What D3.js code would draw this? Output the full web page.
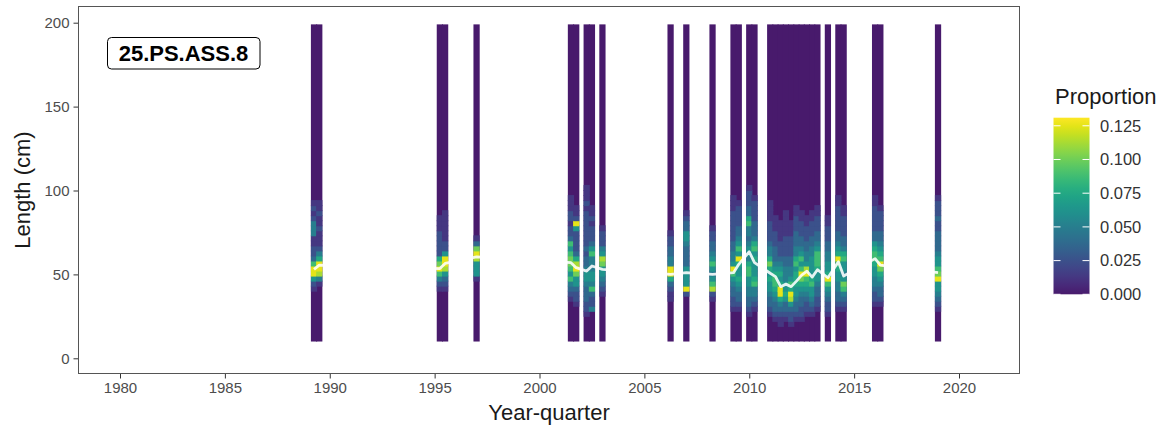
<!DOCTYPE html>
<html>
<head>
<meta charset="utf-8">
<script src="https://cdn.jsdelivr.net/npm/d3@7"></script>
<style>
  html, body { margin: 0; padding: 0; background: #fff; }
  svg { display: block; font-family: "Liberation Sans", Arial, sans-serif; }
</style>
</head>
<body>
<svg id="chart" width="1166" height="431"></svg>
<script>
// ---- data -------------------------------------------------------------
// year-quarter sampled
const quarterLabels = [
  "1989Q2","1989Q3","1995Q2","1995Q3","1997Q1",
  "2001Q3","2001Q4","2002Q2","2002Q3","2003Q1",
  "2006Q2","2007Q1","2008Q2","2009Q2","2009Q3","2010Q1","2010Q2",
  "2011Q1","2011Q2","2011Q3","2011Q4","2012Q1","2012Q2","2012Q3","2012Q4",
  "2013Q1","2013Q2","2013Q4","2014Q2","2014Q3","2016Q1","2016Q2","2019Q1"
];
// mean length (cm) per year-quarter (white line)
const meanLength = [
  53, 55.5, 53.5, 56.5, 60.5,
  57, 54, 52, 55, 53,
  50, 51, 50, 51, 56, 63.5, 57,
  50.7, 48.7, 42.7, 44.2, 42.7, 46, 49.6, 51.9,
  48.4, 52.8, 48, 57.5, 49, 59.4, 55.5, 51
];
// length bins (cm): lower edges 10, 13, ..., 196 (3 cm wide)
const lengthBins = d3.range(10, 199, 3);
const binWidth = 3;
// proportion per length bin, one hex digit per bin starting at 10 cm,
// in steps of 0.0125 (0 = 0.000 ... a = 0.125); missing bins are 0
const proportionStep = 0.0125;
const profiles = [
  "0000000000125aa7322114442121",
  "00000000000149aa642111211211",
  "00000000001247a8622222111",
  "000000000012359aa522111111",
  "00000000000015559a831",
  "00000000123475788757322122111",
  "00000001223558a96322225a211",
  "0000012233345543323222222212111",
  "000000422374554447532221211",
  "00000000012345589542221",
  "0000000011236aa4433221",
  "0000000002a555533334553321",
  "00000000129754575433221",
  "00000012233457a54433222222111",
  "0000001233456556a57543322221",
  "0000012334455776455434476332221",
  "00000012344765556576433322221",
  "0000012334556568644322221111",
  "0000123345677654333222111",
  "000112346aa6565432221111",
  "00001233565544433222211111",
  "000122359a67544332222111",
  "000012334556665764433322211",
  "0000122334568a757543322211",
  "0000012234567a95443322211",
  "00000123455765555443322211",
  "000000122334556777543322211",
  "000001223457a655443322211",
  "0000001233445567a654332222211",
  "000000123478545576433222211",
  "00000001223445567765332222211",
  "000000012334568a76543322221",
  "000000123455a8755433332232221"
];
const panelLabel = "25.PS.ASS.8";
const xTicks = [1980, 1985, 1990, 1995, 2000, 2005, 2010, 2015, 2020];
const yTicks = [0, 50, 100, 150, 200];
const legendTicks = [0, 0.025, 0.05, 0.075, 0.1, 0.125];

// ---- helpers ----------------------------------------------------------
const qTime = s => +s.slice(0, 4) + (+s.slice(5) - 1) / 4;
const rows = [];
quarterLabels.forEach((q, k) => {
  const t = qTime(q);
  lengthBins.forEach((L, i) => {
    const ch = profiles[k][i];
    const v = ch === undefined ? 0 : parseInt(ch, 16) * proportionStep;
    rows.push({ t, L, v });
  });
});
const cols = quarterLabels.map(q => ({ t: qTime(q) }));
const linePts = quarterLabels.map((q, k) => ({ t: qTime(q), m: meanLength[k] }));

// ---- layout -----------------------------------------------------------
const svg = d3.select("#chart");
const P = { left: 78, right: 1020, top: 6, bottom: 374 };

const x = d3.scaleLinear().domain([1980, 2020]).range([120, 959]);
const y = d3.scaleLinear().domain([0, 200]).range([358.3, 22.7]);
const vmax = 0.131;
// zero cells in the reference render as a slightly lifted purple
const color = v => d3.interpolateViridis(0.07 + 0.93 * Math.min(v, vmax) / vmax);

svg.append("rect").attr("x", 0).attr("y", 0).attr("width", 1166).attr("height", 431).attr("fill", "#fff");

const clipId = "panelclip";
svg.append("clipPath").attr("id", clipId).append("rect")
  .attr("x", P.left).attr("y", P.top).attr("width", P.right - P.left).attr("height", P.bottom - P.top);

const plot = svg.append("g").attr("clip-path", `url(#${clipId})`);

const binTop = lengthBins[lengthBins.length - 1] + binWidth;
const binBottom = lengthBins[0];
const ov = 0.5; // overlap to hide anti-aliasing seams between adjacent tiles
// column backgrounds (zero-proportion cells)
plot.append("g").selectAll("rect").data(cols).join("rect")
  .attr("x", d => x(d.t - 0.125) - ov)
  .attr("width", d => x(d.t + 0.125) - x(d.t - 0.125) + 2 * ov)
  .attr("y", y(binTop))
  .attr("height", y(binBottom) - y(binTop))
  .attr("fill", color(0));

// non-zero tiles
plot.append("g")
  .selectAll("rect").data(rows.filter(d => d.v > 0)).join("rect")
  .attr("x", d => x(d.t - 0.125) - ov)
  .attr("width", d => x(d.t + 0.125) - x(d.t - 0.125) + 2 * ov)
  .attr("y", d => y(d.L + binWidth) - ov)
  .attr("height", d => y(d.L) - y(d.L + binWidth) + 2 * ov)
  .attr("fill", d => color(d.v));

// mean length line
plot.append("path").datum(linePts)
  .attr("fill", "none")
  .attr("stroke", "#ffffff")
  .attr("stroke-opacity", 0.88)
  .attr("stroke-width", 2.8)
  .attr("stroke-linejoin", "round")
  .attr("d", d3.line().x(d => x(d.t)).y(d => y(d.m)));

// panel border
svg.append("rect")
  .attr("x", P.left + 0.5).attr("y", P.top + 0.5)
  .attr("width", P.right - P.left - 1).attr("height", P.bottom - P.top - 1)
  .attr("fill", "none").attr("stroke", "#555").attr("stroke-width", 1);

// axes
const xAxis = svg.append("g").attr("transform", `translate(0,${P.bottom})`)
  .call(d3.axisBottom(x).tickValues(xTicks).tickFormat(d3.format("d")).tickSize(4.5).tickPadding(4));
xAxis.select(".domain").remove();
xAxis.selectAll(".tick line").attr("stroke", "#333");
xAxis.selectAll(".tick text").attr("fill", "#4d4d4d").style("font-size", "15px")
  .style("font-family", "'Liberation Sans', Arial, sans-serif");

const yAxis = svg.append("g").attr("transform", `translate(${P.left},0)`)
  .call(d3.axisLeft(y).tickValues(yTicks).tickSize(4.5).tickPadding(4));
yAxis.select(".domain").remove();
yAxis.selectAll(".tick line").attr("stroke", "#333");
yAxis.selectAll(".tick text").attr("fill", "#4d4d4d").style("font-size", "15px")
  .style("font-family", "'Liberation Sans', Arial, sans-serif");

// axis titles
svg.append("text").attr("x", (P.left + P.right) / 2).attr("y", 420)
  .attr("text-anchor", "middle").attr("fill", "#1a1a1a").style("font-size", "22px")
  .text("Year-quarter");
svg.append("text").attr("transform", `translate(30,${(P.top + P.bottom) / 2}) rotate(-90)`)
  .attr("text-anchor", "middle").attr("fill", "#1a1a1a").style("font-size", "22px")
  .text("Length (cm)");

// panel label box
const lab = svg.append("g");
lab.append("rect")
  .attr("x", 107.5).attr("y", 37.5).attr("width", 152.5).attr("height", 31.5)
  .attr("rx", 4).attr("ry", 4)
  .attr("fill", "#fff").attr("stroke", "#000").attr("stroke-width", 1);
lab.append("text").attr("x", 183.5).attr("y", 61)
  .attr("text-anchor", "middle").attr("fill", "#000")
  .style("font-size", "22px").style("font-weight", "bold")
  .text(panelLabel);

// legend
const L = { x: 1053.5, w: 36, top: 117.7, bottom: 294.3 };
const ly = d3.scaleLinear().domain([0, vmax]).range([L.bottom, L.top]);
svg.append("text").attr("x", 1055).attr("y", 104).attr("fill", "#1a1a1a")
  .style("font-size", "22px").text("Proportion");
const defs = svg.append("defs");
const grad = defs.append("linearGradient").attr("id", "vgrad")
  .attr("x1", 0).attr("x2", 0).attr("y1", 1).attr("y2", 0);
d3.range(0, 1.0001, 0.05).forEach(f => {
  grad.append("stop").attr("offset", f).attr("stop-color", color(f * vmax));
});
svg.append("rect").attr("x", L.x).attr("y", L.top).attr("width", L.w).attr("height", L.bottom - L.top)
  .attr("fill", "url(#vgrad)");
const lg = svg.append("g");
legendTicks.forEach(v => {
  const yy = ly(v);
  lg.append("line").attr("x1", L.x).attr("x2", L.x + 7).attr("y1", yy).attr("y2", yy)
    .attr("stroke", "#fff").attr("stroke-width", 1);
  lg.append("line").attr("x1", L.x + L.w - 7).attr("x2", L.x + L.w).attr("y1", yy).attr("y2", yy)
    .attr("stroke", "#fff").attr("stroke-width", 1);
  lg.append("text").attr("x", 1100).attr("y", yy).attr("dy", "0.35em")
    .attr("fill", "#333").style("font-size", "16.5px")
    .text(d3.format(".3f")(v));
});
</script>
</body>
</html>
